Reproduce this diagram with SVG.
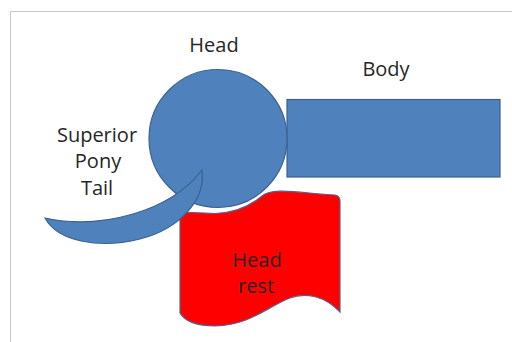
<svg xmlns="http://www.w3.org/2000/svg" width="512" height="342" viewBox="0 0 512 342">
<style>
.blue{fill:#4f81bd;stroke:#3a6290;stroke-width:1.2}
.red{fill:#ff0000;stroke:#5a5f8a;stroke-width:1.2}
text{font-family:"Open Sans","Liberation Sans",sans-serif;font-size:20px;text-anchor:middle;fill:#262626}
</style>
<rect width="512" height="342" fill="#fff"/>
<path d="M10.5,342 V11.5 H512" fill="none" stroke="#c8c8c8" stroke-width="1"/>
<g id="headrest">
<path class="red" d="M180,212 C195,212.5 205,213 215,213.5 A75,75 0 0 0 262,196 C272,187 300,193 335,195 Q340,196 340,201 V312 C325,296 305,292 290,298 C265,308 250,325 215,326 C195,326 184,320 180,313 Z"/>
<text x="257" y="267" fill="#300">Head</text>
<text x="256" y="293" fill="#300">rest</text>
</g>
<g id="body">
<rect class="blue" x="287" y="99.5" width="213" height="77.5"/>
<text x="386" y="76">Body</text>
</g>
<g id="head">
<circle class="blue" cx="218" cy="138.5" r="69"/>
<text x="214" y="52">Head</text>
</g>
<g id="ponytail">
<path class="blue" d="M45,218 C100,230 170,212 202,170 C206,198 182,228 140,239 C100,249 58,242 45,218 Z"/>
<text x="97" y="142">Superior</text>
<text x="98" y="168">Pony</text>
<text x="97" y="195">Tail</text>
</g>
</svg>
